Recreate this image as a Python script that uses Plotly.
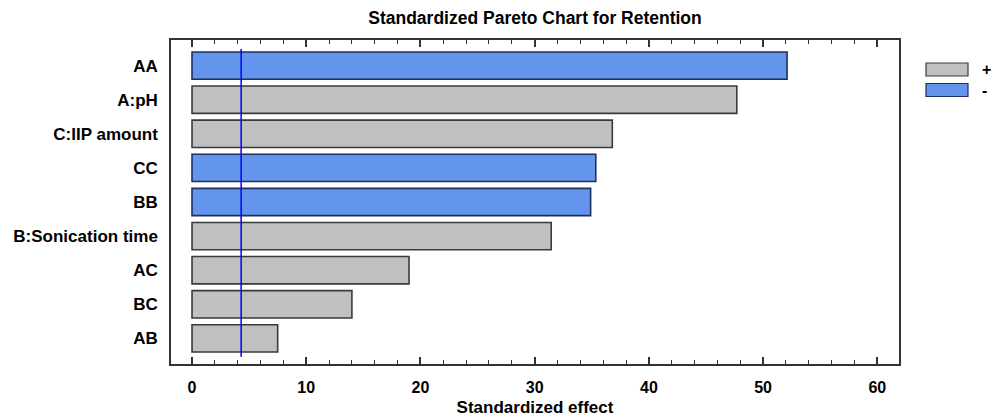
import plotly.graph_objects as go

# Standardized effects (absolute value) and sign of each effect
terms = ["AA", "A:pH", "C:IIP amount", "CC", "BB", "B:Sonication time", "AC", "BC", "AB"]
effects = [52.1, 47.7, 36.8, 35.35, 34.9, 31.45, 19.0, 14.0, 7.5]
signs = ["-", "+", "+", "-", "-", "+", "+", "+", "+"]
critical_t = 4.303

x_ticks = [0, 10, 20, 30, 40, 50, 60]

POS_FILL, NEG_FILL = "#C0C0C0", "#6495ED"
POS_EDGE, NEG_EDGE = "#3A3A3A", "#1F2F5F"
FONT = "Arial, Liberation Sans, sans-serif"

fig = go.Figure()
for sgn, fill, edge in [("+", POS_FILL, POS_EDGE), ("-", NEG_FILL, NEG_EDGE)]:
    ys = [t for t, s in zip(terms, signs) if s == sgn]
    xs = [e for e, s in zip(effects, signs) if s == sgn]
    fig.add_trace(go.Bar(
        x=xs, y=ys, orientation="h", name=sgn, width=0.8,
        marker=dict(color=fill, line=dict(color=edge, width=1.6)),
        showlegend=False,
    ))

# significance threshold line
fig.add_shape(type="line", xref="x", yref="paper",
              x0=critical_t, x1=critical_t, y0=0.022, y1=0.972,
              line=dict(color="#0000FF", width=1.5), layer="above")

# legend swatches
legend_items = [("+", POS_FILL, POS_EDGE), ("-", NEG_FILL, NEG_EDGE)]
for i, (lab, fill, edge) in enumerate(legend_items):
    top = 63 + i * 20.5
    fig.add_shape(type="rect", xref="paper", yref="paper",
                  x0=(926 - 171) / 728, x1=(968 - 171) / 728,
                  y0=(364 - top - 13) / 324, y1=(364 - top) / 324,
                  fillcolor=fill, line=dict(color=edge, width=1.2))
    fig.add_annotation(xref="paper", yref="paper",
                       x=(980 - 171) / 728, y=(364 - top - 6.5) / 324,
                       text="<b>%s</b>" % lab, showarrow=False,
                       xanchor="left", yanchor="middle",
                       font=dict(family=FONT, size=16, color="#000000"))

fig.update_layout(
    width=1003, height=417,
    margin=dict(l=171, r=104, t=40, b=53),
    paper_bgcolor="white", plot_bgcolor="white",
    barmode="overlay",
    font=dict(family=FONT, size=17, color="#000000"),
    title=dict(text="<b>Standardized Pareto Chart for Retention</b>",
               x=0.5, xref="paper", y=1 - 18 / 417, yref="container",
               xanchor="center", yanchor="middle",
               font=dict(family=FONT, size=17.5, color="#000000")),
    xaxis=dict(
        range=[-1.84, 61.9], tickvals=x_ticks,
        ticktext=["<b>%d</b>" % v for v in x_ticks],
        tickfont=dict(family=FONT, size=16),
        ticks="inside", ticklen=7, tickwidth=1.5, tickcolor="#333333",
        minor=dict(dtick=2, ticks="inside", ticklen=4, tickwidth=1.2, tickcolor="#333333"),
        showline=True, linecolor="#333333", linewidth=1.5, mirror="ticks",
        showgrid=False, zeroline=False, ticklabelstandoff=8, automargin=False,
        title=dict(text="<b>Standardized effect</b>", standoff=6,
                   font=dict(family=FONT, size=17)),
    ),
    yaxis=dict(
        categoryorder="array", categoryarray=terms,
        range=[8.75, -0.75],
        tickvals=terms, ticktext=["<b>%s</b>" % t for t in terms],
        tickfont=dict(family=FONT, size=17),
        ticks="", showline=True, linecolor="#333333", linewidth=1.5, mirror=True,
        showgrid=False, zeroline=False, ticklabelstandoff=8, automargin=False,
    ),
)

fig.write_html("out.html")
